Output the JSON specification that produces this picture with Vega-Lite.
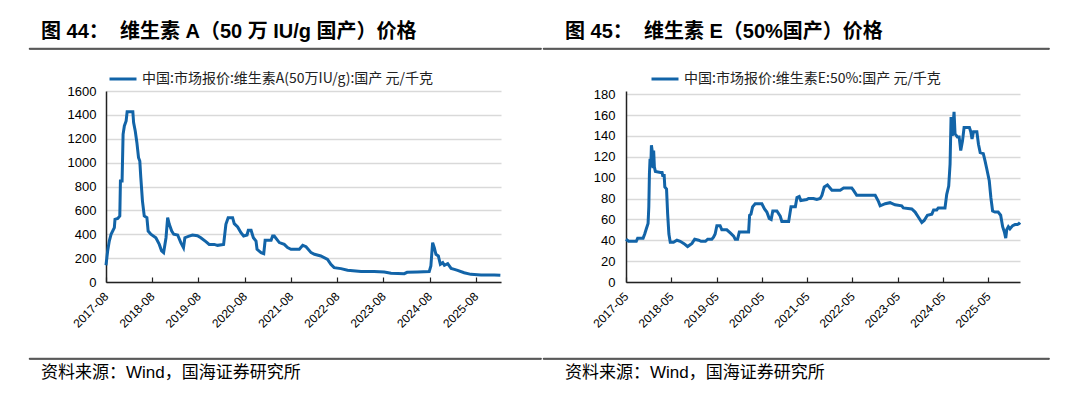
{
  "$schema": "https://vega.github.io/schema/vega-lite/v6.json",
  "background": "white",
  "padding": {"left": 28, "top": 21, "right": 0, "bottom": 0},
  "config": {
    "view": {"stroke": null},
    "font": "Liberation Sans, Noto Sans CJK SC",
    "axis": {"labelFont": "Liberation Sans, Noto Sans CJK SC", "labelColor": "#000", "title": null},
    "legend": {"labelFont": "Noto Sans CJK SC", "labelColor": "#222"}
  },
  "datasets": {
    "va": [
      {"d": "2017-08-01", "v": 140}, {"d": "2017-08-14", "v": 260}, {"d": "2017-08-27", "v": 343}, {"d": "2017-09-10", "v": 400},
      {"d": "2017-09-23", "v": 427}, {"d": "2017-10-06", "v": 455}, {"d": "2017-10-11", "v": 525}, {"d": "2017-11-02", "v": 533},
      {"d": "2017-11-18", "v": 553}, {"d": "2017-11-23", "v": 846}, {"d": "2017-12-06", "v": 846}, {"d": "2017-12-14", "v": 1237},
      {"d": "2017-12-24", "v": 1307}, {"d": "2018-01-07", "v": 1349}, {"d": "2018-01-15", "v": 1427}, {"d": "2018-03-01", "v": 1427},
      {"d": "2018-03-07", "v": 1335}, {"d": "2018-03-20", "v": 1265}, {"d": "2018-04-02", "v": 1167}, {"d": "2018-04-15", "v": 1041},
      {"d": "2018-04-25", "v": 1013}, {"d": "2018-05-03", "v": 874}, {"d": "2018-05-16", "v": 678}, {"d": "2018-05-30", "v": 553},
      {"d": "2018-06-20", "v": 539}, {"d": "2018-06-30", "v": 427}, {"d": "2018-07-21", "v": 400}, {"d": "2018-08-30", "v": 371},
      {"d": "2018-09-26", "v": 315}, {"d": "2018-10-14", "v": 260}, {"d": "2018-10-30", "v": 246}, {"d": "2018-11-18", "v": 371},
      {"d": "2018-12-01", "v": 539}, {"d": "2018-12-14", "v": 483}, {"d": "2019-01-02", "v": 427}, {"d": "2019-01-18", "v": 400},
      {"d": "2019-02-18", "v": 394}, {"d": "2019-03-15", "v": 330}, {"d": "2019-04-05", "v": 288}, {"d": "2019-04-16", "v": 371},
      {"d": "2019-05-19", "v": 385}, {"d": "2019-06-15", "v": 394}, {"d": "2019-07-24", "v": 388}, {"d": "2019-08-20", "v": 371},
      {"d": "2019-09-29", "v": 338}, {"d": "2019-10-25", "v": 315}, {"d": "2019-12-04", "v": 315}, {"d": "2019-12-30", "v": 307},
      {"d": "2020-02-16", "v": 315}, {"d": "2020-03-05", "v": 483}, {"d": "2020-03-23", "v": 539}, {"d": "2020-04-27", "v": 539},
      {"d": "2020-05-10", "v": 489}, {"d": "2020-06-06", "v": 461}, {"d": "2020-07-02", "v": 413}, {"d": "2020-07-23", "v": 385},
      {"d": "2020-08-19", "v": 394}, {"d": "2020-08-29", "v": 433}, {"d": "2020-09-20", "v": 433}, {"d": "2020-10-08", "v": 371},
      {"d": "2020-10-29", "v": 343}, {"d": "2020-11-06", "v": 274}, {"d": "2020-12-08", "v": 246}, {"d": "2020-12-29", "v": 237},
      {"d": "2021-01-09", "v": 349}, {"d": "2021-02-25", "v": 349}, {"d": "2021-03-09", "v": 385}, {"d": "2021-03-22", "v": 385},
      {"d": "2021-05-01", "v": 330}, {"d": "2021-06-09", "v": 315}, {"d": "2021-07-05", "v": 288}, {"d": "2021-08-01", "v": 274},
      {"d": "2021-10-06", "v": 274}, {"d": "2021-11-02", "v": 307}, {"d": "2021-11-28", "v": 296}, {"d": "2022-01-07", "v": 246},
      {"d": "2022-02-03", "v": 232}, {"d": "2022-03-25", "v": 218}, {"d": "2022-05-17", "v": 190}, {"d": "2022-06-12", "v": 148},
      {"d": "2022-07-08", "v": 120}, {"d": "2022-08-31", "v": 112}, {"d": "2022-10-22", "v": 98}, {"d": "2023-02-06", "v": 87},
      {"d": "2023-05-20", "v": 87}, {"d": "2023-08-08", "v": 84}, {"d": "2023-09-30", "v": 73}, {"d": "2024-01-13", "v": 70},
      {"d": "2024-02-04", "v": 81}, {"d": "2024-04-27", "v": 84}, {"d": "2024-07-28", "v": 87}, {"d": "2024-08-10", "v": 134},
      {"d": "2024-08-24", "v": 330}, {"d": "2024-09-06", "v": 288}, {"d": "2024-09-19", "v": 232}, {"d": "2024-10-08", "v": 218},
      {"d": "2024-10-24", "v": 148}, {"d": "2024-11-12", "v": 162}, {"d": "2024-11-25", "v": 140}, {"d": "2024-12-21", "v": 154},
      {"d": "2025-01-17", "v": 114}, {"d": "2025-02-12", "v": 106}, {"d": "2025-03-09", "v": 98}, {"d": "2025-04-30", "v": 78},
      {"d": "2025-06-22", "v": 64}, {"d": "2025-09-10", "v": 59}, {"d": "2025-12-24", "v": 59}, {"d": "2026-02-10", "v": 56}
    ],
    "ve": [
      {"d": "2017-05-01", "v": 41}, {"d": "2017-05-22", "v": 39}, {"d": "2017-07-23", "v": 39}, {"d": "2017-08-03", "v": 42},
      {"d": "2017-09-16", "v": 42}, {"d": "2017-09-29", "v": 46}, {"d": "2017-10-12", "v": 51}, {"d": "2017-10-26", "v": 56},
      {"d": "2017-11-01", "v": 72}, {"d": "2017-11-06", "v": 104}, {"d": "2017-11-11", "v": 118}, {"d": "2017-11-17", "v": 110},
      {"d": "2017-11-22", "v": 131}, {"d": "2017-11-30", "v": 124}, {"d": "2017-12-05", "v": 109}, {"d": "2017-12-10", "v": 126},
      {"d": "2017-12-16", "v": 110}, {"d": "2017-12-24", "v": 106}, {"d": "2018-02-03", "v": 105}, {"d": "2018-02-16", "v": 105},
      {"d": "2018-02-21", "v": 102}, {"d": "2018-03-05", "v": 102}, {"d": "2018-03-10", "v": 91}, {"d": "2018-03-24", "v": 89},
      {"d": "2018-04-02", "v": 65}, {"d": "2018-04-12", "v": 46}, {"d": "2018-04-23", "v": 38}, {"d": "2018-05-19", "v": 38},
      {"d": "2018-06-16", "v": 40}, {"d": "2018-07-12", "v": 39}, {"d": "2018-08-09", "v": 37}, {"d": "2018-09-10", "v": 34},
      {"d": "2018-10-15", "v": 37}, {"d": "2018-11-06", "v": 41}, {"d": "2018-12-08", "v": 40}, {"d": "2018-12-27", "v": 39},
      {"d": "2019-02-01", "v": 39}, {"d": "2019-02-19", "v": 41}, {"d": "2019-03-24", "v": 41}, {"d": "2019-04-07", "v": 43},
      {"d": "2019-04-20", "v": 46}, {"d": "2019-05-04", "v": 54}, {"d": "2019-05-30", "v": 54}, {"d": "2019-06-13", "v": 50},
      {"d": "2019-07-23", "v": 50}, {"d": "2019-08-20", "v": 47}, {"d": "2019-09-16", "v": 44}, {"d": "2019-09-29", "v": 41},
      {"d": "2019-10-18", "v": 41}, {"d": "2019-11-01", "v": 48}, {"d": "2020-01-15", "v": 48}, {"d": "2020-01-23", "v": 64},
      {"d": "2020-02-03", "v": 65}, {"d": "2020-02-16", "v": 72}, {"d": "2020-03-08", "v": 75}, {"d": "2020-05-01", "v": 75},
      {"d": "2020-05-22", "v": 70}, {"d": "2020-06-10", "v": 67}, {"d": "2020-06-29", "v": 61}, {"d": "2020-07-15", "v": 60},
      {"d": "2020-07-28", "v": 68}, {"d": "2020-08-30", "v": 68}, {"d": "2020-09-26", "v": 63}, {"d": "2020-10-09", "v": 58},
      {"d": "2020-12-03", "v": 58}, {"d": "2020-12-22", "v": 72}, {"d": "2021-01-26", "v": 72}, {"d": "2021-02-08", "v": 81},
      {"d": "2021-02-26", "v": 82}, {"d": "2021-03-11", "v": 78}, {"d": "2021-04-28", "v": 79}, {"d": "2021-05-12", "v": 80},
      {"d": "2021-06-21", "v": 80}, {"d": "2021-07-18", "v": 79}, {"d": "2021-08-14", "v": 80}, {"d": "2021-08-28", "v": 83},
      {"d": "2021-09-16", "v": 91}, {"d": "2021-10-12", "v": 93}, {"d": "2021-11-17", "v": 88}, {"d": "2022-01-23", "v": 88},
      {"d": "2022-02-19", "v": 90}, {"d": "2022-04-26", "v": 90}, {"d": "2022-05-09", "v": 88}, {"d": "2022-06-05", "v": 83},
      {"d": "2022-11-01", "v": 83}, {"d": "2022-11-28", "v": 77}, {"d": "2022-12-11", "v": 73}, {"d": "2023-01-21", "v": 75},
      {"d": "2023-03-01", "v": 76}, {"d": "2023-04-10", "v": 74}, {"d": "2023-06-03", "v": 73}, {"d": "2023-06-16", "v": 71},
      {"d": "2023-08-23", "v": 70}, {"d": "2023-09-19", "v": 67}, {"d": "2023-10-16", "v": 62}, {"d": "2023-11-12", "v": 57},
      {"d": "2023-12-01", "v": 59}, {"d": "2023-12-27", "v": 64}, {"d": "2024-02-01", "v": 65}, {"d": "2024-02-15", "v": 69},
      {"d": "2024-03-11", "v": 69}, {"d": "2024-03-24", "v": 71}, {"d": "2024-05-17", "v": 71}, {"d": "2024-05-31", "v": 84},
      {"d": "2024-06-16", "v": 92}, {"d": "2024-06-27", "v": 113}, {"d": "2024-07-05", "v": 158}, {"d": "2024-07-15", "v": 140},
      {"d": "2024-07-29", "v": 163}, {"d": "2024-08-06", "v": 142}, {"d": "2024-08-25", "v": 139}, {"d": "2024-09-08", "v": 139},
      {"d": "2024-09-21", "v": 126}, {"d": "2024-10-05", "v": 135}, {"d": "2024-10-18", "v": 148}, {"d": "2024-11-30", "v": 148},
      {"d": "2024-12-11", "v": 144}, {"d": "2024-12-21", "v": 137}, {"d": "2025-01-02", "v": 144}, {"d": "2025-01-29", "v": 144},
      {"d": "2025-02-11", "v": 132}, {"d": "2025-02-25", "v": 124}, {"d": "2025-03-22", "v": 123}, {"d": "2025-04-05", "v": 116},
      {"d": "2025-04-18", "v": 109}, {"d": "2025-05-09", "v": 97}, {"d": "2025-05-22", "v": 81}, {"d": "2025-06-05", "v": 68},
      {"d": "2025-06-24", "v": 67}, {"d": "2025-07-20", "v": 67}, {"d": "2025-08-09", "v": 64}, {"d": "2025-08-25", "v": 53},
      {"d": "2025-09-08", "v": 48}, {"d": "2025-09-19", "v": 42}, {"d": "2025-09-27", "v": 50}, {"d": "2025-10-10", "v": 53},
      {"d": "2025-10-23", "v": 51}, {"d": "2025-11-14", "v": 54}, {"d": "2025-12-03", "v": 55}, {"d": "2025-12-22", "v": 55},
      {"d": "2026-01-05", "v": 56}, {"d": "2026-01-12", "v": 57}
    ]
  },
  "resolve": {"scale": {"color": "independent"}, "legend": {"color": "independent"}},
  "spacing": 14,
  "vconcat": [
    {
      "spacing": 0,
      "hconcat": [
        {
          "width": 512, "height": 1,
          "view": {"stroke": "#111", "strokeWidth": 0.8},
          "data": {"values": []},
          "mark": "point",
          "encoding": {},
          "title": {"text": "图 44：\u00a0\u00a0维生素 A（50 万 IU/g 国产）价格", "anchor": "start", "fontSize": 20, "fontWeight": "bold", "color": "#000", "font": "Liberation Sans, Noto Sans CJK SC", "offset": -14, "baseline": "bottom", "dx": 12}
        },
        {
          "width": 506, "height": 1,
          "view": {"stroke": "#111", "strokeWidth": 0.8},
          "data": {"values": []},
          "mark": "point",
          "encoding": {},
          "title": {"text": "图 45：\u00a0\u00a0维生素 E（50%国产）价格", "anchor": "start", "fontSize": 20, "fontWeight": "bold", "color": "#000", "font": "Liberation Sans, Noto Sans CJK SC", "offset": -14, "baseline": "bottom", "dx": 22}
        }
      ]
    },
    {
      "spacing": 0,
      "resolve": {"scale": {"color": "independent"}, "legend": {"color": "independent"}},
      "hconcat": [
        {
          "width": 1, "height": 1,
          "data": {"values": []},
          "mark": "point",
          "encoding": {}
        },
        {
          "width": 395, "height": 191,
          "data": {"name": "va"},
          "mark": {"type": "line", "strokeWidth": 3},
          "encoding": {
            "x": {"field": "d", "type": "temporal",
              "scale": {"type": "utc", "domain": [{"year": 2017, "month": 8, "date": 1, "utc": true}, {"year": 2026, "month": 2, "date": 15, "utc": true}]},
              "axis": {"values": [{"year": 2017, "month": 8, "date": 1, "utc": true}, {"year": 2018, "month": 8, "date": 1, "utc": true}, {"year": 2019, "month": 8, "date": 1, "utc": true}, {"year": 2020, "month": 8, "date": 1, "utc": true}, {"year": 2021, "month": 8, "date": 1, "utc": true}, {"year": 2022, "month": 8, "date": 1, "utc": true}, {"year": 2023, "month": 8, "date": 1, "utc": true}, {"year": 2024, "month": 8, "date": 1, "utc": true}, {"year": 2025, "month": 8, "date": 1, "utc": true}],
                "format": "%Y-%m", "labelAngle": -45, "labelAlign": "right", "labelBaseline": "middle", "labelFontSize": 12, "labelPadding": 17, "labelOverlap": false, "labelFlush": false,
                "grid": false, "tickSize": -5, "tickColor": "#222", "tickWidth": 1.2, "domainColor": "#222", "domainWidth": 1.5, "minExtent": 61, "maxExtent": 61}},
            "y": {"field": "v", "type": "quantitative",
              "scale": {"domain": [0, 1600], "nice": false},
              "axis": {"values": [0, 200, 400, 600, 800, 1000, 1200, 1400, 1600], "format": "d", "grid": true, "gridColor": "#d9d9d9", "gridWidth": 1.5, "ticks": false, "labelPadding": 10, "labelFontSize": 13, "domainColor": "#222", "domainWidth": 1.5, "minExtent": 76, "maxExtent": 76}},
            "color": {"datum": "中国:市场报价:维生素A(50万IU/g):国产  元/千克", "type": "nominal",
              "scale": {"range": ["#1264a8"]},
              "legend": {"orient": "none", "legendX": 2, "legendY": -27, "title": null, "symbolType": "stroke", "symbolSize": 729, "symbolStrokeWidth": 3, "labelFontSize": 14, "labelLimit": 500, "labelOffset": 4}}
          }
        },
        {
          "width": 394, "height": 191,
          "data": {"name": "ve"},
          "mark": {"type": "line", "strokeWidth": 3},
          "encoding": {
            "x": {"field": "d", "type": "temporal",
              "scale": {"type": "utc", "domain": [{"year": 2017, "month": 5, "date": 1, "utc": true}, {"year": 2026, "month": 1, "date": 12, "utc": true}]},
              "axis": {"values": [{"year": 2017, "month": 5, "date": 1, "utc": true}, {"year": 2018, "month": 5, "date": 1, "utc": true}, {"year": 2019, "month": 5, "date": 1, "utc": true}, {"year": 2020, "month": 5, "date": 1, "utc": true}, {"year": 2021, "month": 5, "date": 1, "utc": true}, {"year": 2022, "month": 5, "date": 1, "utc": true}, {"year": 2023, "month": 5, "date": 1, "utc": true}, {"year": 2024, "month": 5, "date": 1, "utc": true}, {"year": 2025, "month": 5, "date": 1, "utc": true}],
                "format": "%Y-%m", "labelAngle": -45, "labelAlign": "right", "labelBaseline": "middle", "labelFontSize": 12, "labelPadding": 17, "labelOverlap": false, "labelFlush": false,
                "grid": false, "tickSize": -5, "tickColor": "#222", "tickWidth": 1.2, "domainColor": "#222", "domainWidth": 1.5, "minExtent": 61, "maxExtent": 61}},
            "y": {"field": "v", "type": "quantitative",
              "scale": {"domain": [0, 183], "nice": false},
              "axis": {"values": [0, 20, 40, 60, 80, 100, 120, 140, 160, 180], "format": "d", "grid": true, "gridColor": "#d9d9d9", "gridWidth": 1.5, "ticks": false, "labelPadding": 11, "labelFontSize": 13, "domainColor": "#222", "domainWidth": 1.5, "minExtent": 119, "maxExtent": 119}},
            "color": {"datum": "中国:市场报价:维生素E:50%:国产  元/千克", "type": "nominal",
              "scale": {"range": ["#1264a8"]},
              "legend": {"orient": "none", "legendX": 24, "legendY": -27, "title": null, "symbolType": "stroke", "symbolSize": 729, "symbolStrokeWidth": 3, "labelFontSize": 14, "labelLimit": 500, "labelOffset": 4}}
          }
        }
      ]
    },
    {
      "spacing": 0,
      "hconcat": [
        {
          "width": 512, "height": 1,
          "view": {"stroke": "#111", "strokeWidth": 0.8},
          "data": {"values": []},
          "mark": "point",
          "encoding": {},
          "title": {"text": "资料来源：Wind，国海证券研究所", "orient": "bottom", "anchor": "start", "fontSize": 17, "fontWeight": "normal", "color": "#000", "font": "Liberation Sans, Noto Sans CJK SC", "offset": 6, "baseline": "top", "dx": 12}
        },
        {
          "width": 506, "height": 1,
          "view": {"stroke": "#111", "strokeWidth": 0.8},
          "data": {"values": []},
          "mark": "point",
          "encoding": {},
          "title": {"text": "资料来源：Wind，国海证券研究所", "orient": "bottom", "anchor": "start", "fontSize": 17, "fontWeight": "normal", "color": "#000", "font": "Liberation Sans, Noto Sans CJK SC", "offset": 6, "baseline": "top", "dx": 22}
        }
      ]
    }
  ]
}
